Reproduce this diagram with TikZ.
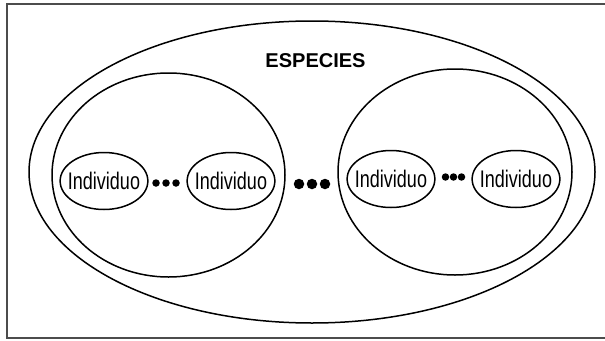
\documentclass[tikz,border=0pt]{standalone}
\usepackage{fontspec}
\setmainfont{Liberation Sans}
\newfontfamily\narrowfont[FakeStretch=0.75]{Liberation Sans}
\usepackage{tikz}
\usetikzlibrary{shapes}
\usetikzlibrary{positioning}
\tikzstyle{conjunto}=[ellipse,draw,line width=1.5pt,inner sep=0pt]
\tikzstyle{individuo}=[ellipse,draw,line width=1.5pt,minimum width=82pt,minimum height=57pt,inner xsep=-5pt,inner ysep=0pt,font=\narrowfont\fontsize{24}{24}\selectfont]
\tikzstyle{punto}=[circle,fill=black,inner sep=0pt,minimum size=7.5pt]
\tikzstyle{puntogrande}=[circle,fill=black,inner sep=0pt,minimum size=10.5pt]
\tikzstyle{titulo}=[font=\bfseries\fontsize{20}{20}\selectfont]

\begin{document}
\begin{tikzpicture}[x=1pt,y=-1pt]

 \useasboundingbox (0,0) rectangle (605,340);
 \draw[line width=2pt, black!70] (7,4) rectangle (612,338);

 %Especie
 \node[conjunto, minimum width=566pt, minimum height=302pt] (especie) at (312,172) {};
 \node[titulo] (nombre) at (315.5,60.5) {ESPECIES};

 %Poblaciones
 \foreach \x/\y/\w/\h/\name in {168.5/175/233/204/pob1, 455/172/234/206/pob2}
   \node[conjunto, minimum width=\w pt, minimum height=\h pt] (\name) at (\x,\y) {};

 %Individuos
 \foreach \x/\y/\name/\label in {104/181/i11/Individuo, 231/181/i12/Individuo, 391/179/i21/Individuo, 516/179/i22/Individuo}
   \node[individuo] (\name) at (\x,\y) {\label};

 %Puntos
 \foreach \x/\y/\name in {156/183/a1, 166/183/a2, 176/183/a3, 445.5/177/b1, 453.5/177/b2, 461.5/177/b3}
   \node[punto] (\name) at (\x,\y) {};

 \foreach \x/\y/\name in {299/184/c1, 312/184/c2, 325/184/c3}
   \node[puntogrande] (\name) at (\x,\y) {};

\end{tikzpicture}
\end{document}
